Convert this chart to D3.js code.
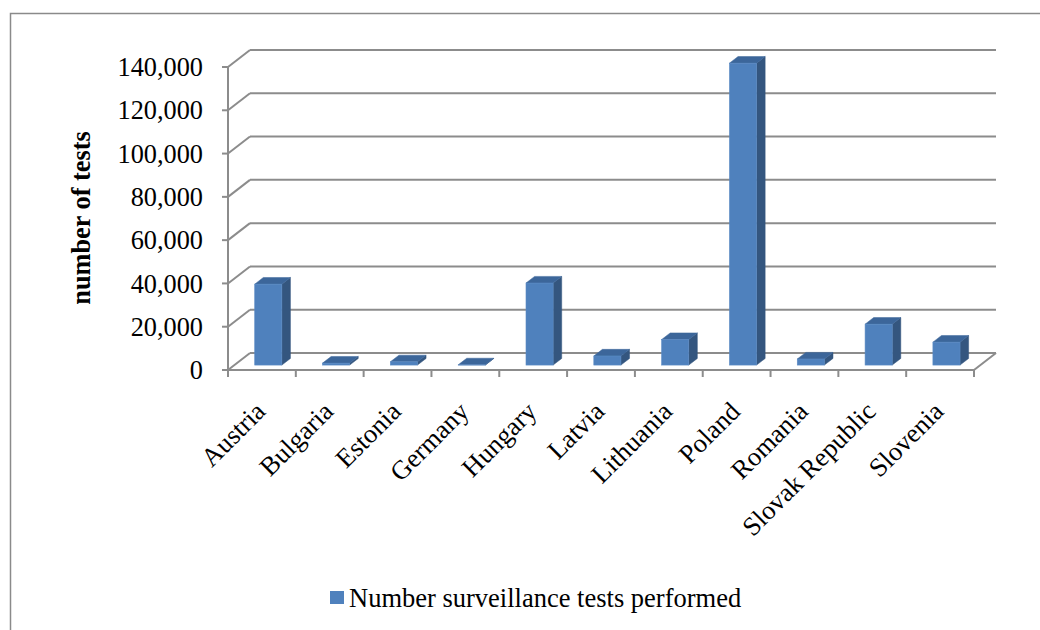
<!DOCTYPE html>
<html><head><meta charset="utf-8">
<script src="https://cdn.jsdelivr.net/npm/d3@7"></script>
<style>body{margin:0;background:#fff}svg{display:block}</style>
</head><body>
<svg id="c" width="1040" height="630"></svg>
<script>
const categories = ["Austria","Bulgaria","Estonia","Germany","Hungary","Latvia","Lithuania","Poland","Romania","Slovak Republic","Slovenia"];
const values = [37400, 900, 1500, 100, 37900, 4200, 11800, 139500, 2800, 18900, 10600];
const yTicks = [0, 20000, 40000, 60000, 80000, 100000, 120000, 140000];
const seriesName = "Number surveillance tests performed";
const yTitle = "number of tests";

const svg = d3.select("#c");
const font = "'Liberation Serif','Times New Roman',serif";
const DX = 22, DY = -17;           // depth offset of back wall
const f0 = 0.29, f1 = 0.68;        // bar depth fractions
const x0 = 228, x1 = 974;
const x = d3.scaleBand().domain(categories).range([x0, x1]).paddingInner(0.6).paddingOuter(0.3);
const y = d3.scaleLinear().domain([0, 140000]).range([370, 67]);
const grid = "#8c8c8c";

// frame
svg.append("rect").attr("x", 10.5).attr("y", 13.5).attr("width", 1100).attr("height", 700)
  .attr("fill", "none").attr("stroke", "#8a8a8a").attr("stroke-width", 1.5);

// back wall gridlines + side diagonals
const g = svg.append("g");
yTicks.forEach(t => {
  g.append("line").attr("x1", x0 + DX).attr("x2", x1 + DX).attr("y1", y(t) + DY).attr("y2", y(t) + DY)
    .attr("stroke", grid).attr("stroke-width", 2);
  g.append("line").attr("x1", x0).attr("x2", x0 + DX).attr("y1", y(t)).attr("y2", y(t) + DY)
    .attr("stroke", grid).attr("stroke-width", 2);
});
// floor front edge and right edge
g.append("line").attr("x1", x0).attr("x2", x1).attr("y1", y(0)).attr("y2", y(0)).attr("stroke", grid).attr("stroke-width", 2);
g.append("line").attr("x1", x1).attr("x2", x1 + DX).attr("y1", y(0)).attr("y2", y(0) + DY).attr("stroke", grid).attr("stroke-width", 2);

// bars
const bars = svg.append("g");
categories.forEach((c, i) => {
  const v = values[i];
  const ox = DX * f0, oy = DY * f0;
  const ddx = DX * (f1 - f0), ddy = DY * (f1 - f0);
  const L = x(c) + ox, R = x(c) + x.bandwidth() + ox;
  const B = y(0) + oy, T = y(v) + oy;
  bars.append("path").attr("d", `M${R},${B}L${R + ddx},${B + ddy}L${R + ddx},${T + ddy}L${R},${T}Z`)
    .attr("fill", "#34567f").attr("stroke", "#34567f").attr("stroke-width", 0.5);
  bars.append("path").attr("d", `M${L},${T}L${R},${T}L${R + ddx},${T + ddy}L${L + ddx},${T + ddy}Z`)
    .attr("fill", "#3c669a").attr("stroke", "#3c669a").attr("stroke-width", 0.5);
  bars.append("rect").attr("x", L).attr("y", T).attr("width", R - L).attr("height", B - T)
    .attr("fill", "#4f81bd").attr("stroke", "#5b8bc4").attr("stroke-width", 0.6);
});

// front vertical axis
svg.append("line").attr("x1", x0).attr("x2", x0).attr("y1", y(140000)).attr("y2", y(0))
  .attr("stroke", grid).attr("stroke-width", 2);
const yAxis = svg.append("g");
yTicks.forEach(t => {
  yAxis.append("line").attr("x1", x0 - 6).attr("x2", x0).attr("y1", y(t)).attr("y2", y(t))
    .attr("stroke", grid).attr("stroke-width", 2);
  yAxis.append("text").attr("x", 203).attr("y", y(t)).attr("dy", "0.35em")
    .attr("text-anchor", "end").attr("font-family", font).attr("font-size", 26.3).attr("fill", "#000")
    .text(d3.format(",")(t));
});

// category ticks
const step = x.step();
d3.range(categories.length + 1).forEach(i => {
  const xx = x0 + i * step;
  svg.append("line").attr("x1", xx).attr("x2", xx).attr("y1", y(0)).attr("y2", y(0) + 7)
    .attr("stroke", grid).attr("stroke-width", 2);
});
// category labels
categories.forEach(c => {
  const cx = x(c) + x.bandwidth() / 2 + 5;
  svg.append("text").attr("transform", `translate(${cx},413) rotate(-45)`)
    .attr("text-anchor", "end").attr("font-family", font).attr("font-size", 26.5).attr("fill", "#000")
    .text(c);
});

// y title
svg.append("text").attr("transform", "translate(90,218) rotate(-90)")
  .attr("text-anchor", "middle").attr("font-family", font).attr("font-size", 26.3)
  .attr("font-weight", "bold").attr("fill", "#000").text(yTitle);

// legend
svg.append("rect").attr("x", 330).attr("y", 591).attr("width", 14).attr("height", 13).attr("fill", "#4f81bd");
svg.append("text").attr("x", 349).attr("y", 607).attr("font-family", font).attr("font-size", 26.5)
  .attr("fill", "#000").text(seriesName);
</script>
</body></html>
